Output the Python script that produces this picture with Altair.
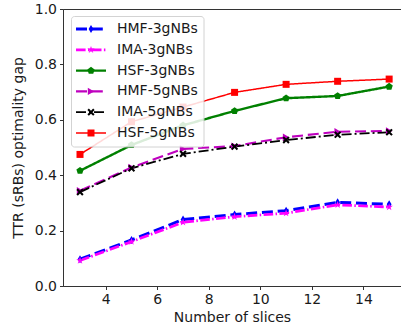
import altair as alt
import pandas as pd

slices = [3, 5, 7, 9, 11, 13, 15]
series_names = ["HMF-3gNBs", "IMA-3gNBs", "HSF-3gNBs", "HMF-5gNBs", "IMA-5gNBs", "HSF-5gNBs"]
hmf3 = [0.097, 0.166, 0.240, 0.258, 0.272, 0.302, 0.295]
ima3 = [0.092, 0.160, 0.230, 0.250, 0.263, 0.293, 0.285]
hsf3 = [0.416, 0.509, 0.580, 0.632, 0.678, 0.686, 0.720]
hmf5 = [0.344, 0.428, 0.495, 0.505, 0.537, 0.557, 0.560]
ima5 = [0.339, 0.425, 0.477, 0.503, 0.527, 0.546, 0.555]
hsf5 = [0.475, 0.593, 0.646, 0.699, 0.728, 0.739, 0.747]
values = [hmf3, ima3, hsf3, hmf5, ima5, hsf5]

colors = ["#0000ff", "#ff00ff", "#008000", "#bf00bf", "#000000", "#ff0000"]
dashes = [[11, 4.8], [9.6, 2.4, 1.5, 2.4], [1, 0], [11, 4.8], [10, 3, 2, 3], [1, 0]]
widths = [3, 1.5, 1.5, 3, 2, 1.5]
shapes = [
    "M0,-1L0.6,0L0,1L-0.6,0Z",
    "M0,-1L0.225,-0.31L0.95,-0.31L0.36,0.12L0.59,0.81L0,0.38L-0.59,0.81L-0.36,0.12L-0.95,-0.31L-0.225,-0.31Z",
    "M0,-1L0.95,-0.31L0.59,0.81L-0.59,0.81L-0.95,-0.31Z",
    "triangle-right",
    "M-1,-0.6L-0.6,-1L0,-0.4L0.6,-1L1,-0.6L0.4,0L1,0.6L0.6,1L0,0.4L-0.6,1L-1,0.6L-0.4,0Z",
    "square",
]
sizes = [64, 49, 36, 64, 30, 36]

rows = []
for name, vals in zip(series_names, values):
    for x, y in zip(slices, vals):
        rows.append({"slices": x, "gap": y, "series": name})
df = pd.DataFrame(rows)
leg = pd.DataFrame({"series": series_names, "li": list(range(len(series_names)))})

color_s = alt.Scale(domain=series_names, range=colors)
dash_s = alt.Scale(domain=series_names, range=dashes)
width_s = alt.Scale(domain=series_names, range=widths)
shape_s = alt.Scale(domain=series_names, range=shapes)
size_s = alt.Scale(domain=series_names, range=sizes)

font = "DejaVu Sans"
xs = alt.Scale(domain=[2.34, 15.46], nice=False, zero=False)
ys = alt.Scale(domain=[0, 1], nice=False)

base = alt.Chart(df)
lines = base.mark_line(clip=True).encode(
    x=alt.X("slices:Q", scale=xs, title="Number of slices",
            axis=alt.Axis(values=[4, 6, 8, 10, 12, 14], grid=False)),
    y=alt.Y("gap:Q", scale=ys, title="TTR (sRBs) optimality gap",
            axis=alt.Axis(values=[0, 0.2, 0.4, 0.6, 0.8, 1.0], format=".1f", grid=False)),
    color=alt.Color("series:N", scale=color_s, legend=None),
    strokeDash=alt.StrokeDash("series:N", scale=dash_s, legend=None),
    strokeWidth=alt.StrokeWidth("series:N", scale=width_s, legend=None),
    order=alt.Order("slices:Q"),
)
points = base.mark_point(filled=True, opacity=1).encode(
    x=alt.X("slices:Q", scale=xs),
    y=alt.Y("gap:Q", scale=ys),
    color=alt.Color("series:N", scale=color_s, legend=None),
    shape=alt.Shape("series:N", scale=shape_s, legend=None),
    size=alt.Size("series:N", scale=size_s, legend=None),
)
data_layer = alt.layer(lines, points)

lbase = alt.Chart(leg)
ly = alt.Y("li:Q", scale=alt.Scale(domain=[0, 5], range=[20, 124]), axis=None)
box = alt.Chart(pd.DataFrame({"a": [0]})).mark_rect(
    fill="white", stroke="#cccccc", strokeWidth=1, cornerRadius=3, opacity=0.85
).encode(x=alt.value(8.5), x2=alt.value(141), y=alt.value(7.5), y2=alt.value(138))
lrule = lbase.mark_rule().encode(
    x=alt.value(13), x2=alt.value(43), y=ly,
    color=alt.Color("series:N", scale=color_s, legend=None),
    strokeDash=alt.StrokeDash("series:N", scale=dash_s, legend=None),
    strokeWidth=alt.StrokeWidth("series:N", scale=width_s, legend=None),
)
lpoint = lbase.mark_point(filled=True, opacity=1).encode(
    x=alt.value(28), y=ly,
    color=alt.Color("series:N", scale=color_s, legend=None),
    shape=alt.Shape("series:N", scale=shape_s, legend=None),
    size=alt.Size("series:N", scale=size_s, legend=None),
)
ltext = lbase.mark_text(align="left", baseline="middle", font=font, fontSize=14, color="#1a1a1a").encode(
    x=alt.value(54), y=ly, text="series:N"
)
legend_layer = alt.layer(box, lrule, lpoint, ltext)

chart = alt.layer(data_layer, legend_layer).resolve_scale(
    y="independent"
).properties(
    width=338, height=277,
    autosize=alt.AutoSizeParams(type="none"),
    padding={"left": 63, "top": 9, "right": 0, "bottom": 43},
    background="white",
).configure_view(
    stroke="#333333", strokeWidth=1
).configure_axis(
    labelFont=font, titleFont=font, labelFontSize=14, titleFontSize=14,
    titleFontWeight="normal", labelColor="#1a1a1a", titleColor="#1a1a1a",
    domainColor="#333333", tickColor="#333333", tickSize=3.5, labelPadding=3,
    domainWidth=1,
).configure_axisY(titlePadding=9).configure_axisX(titlePadding=4)

chart.save("out.html", embed_options={"renderer": "svg", "actions": False})
